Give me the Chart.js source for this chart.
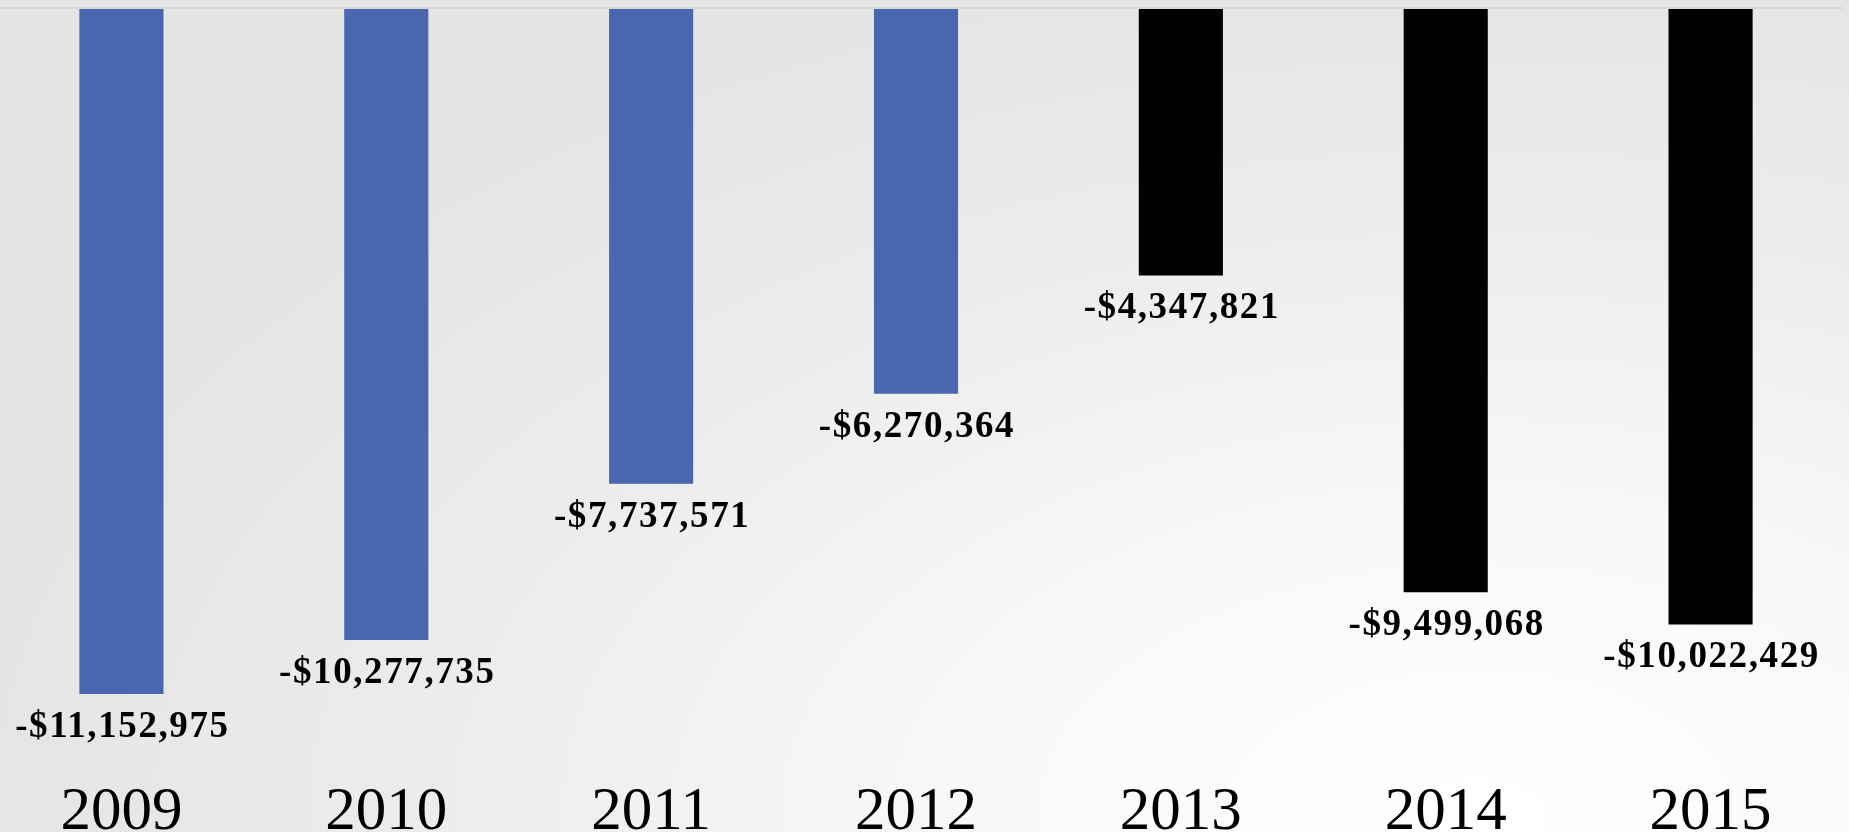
<!DOCTYPE html>
<html>
<head>
<meta charset="utf-8">
<script src="https://cdn.jsdelivr.net/npm/chart.js@4"></script>
<style>
  html, body {
    margin: 0;
    padding: 0;
    width: 1849px;
    height: 832px;
    overflow: hidden;
    background: radial-gradient(ellipse 95% 120% at 80% 98%, #ffffff 0%, #f8f8f8 30%, #ececec 60%, #e5e5e5 85%);
  }
  #wrap {
    position: absolute;
    left: -11.4px;
    top: 0;
    width: 1854px;
    height: 880px;
  }
</style>
</head>
<body>
<div id="wrap"><canvas id="lossChart"></canvas></div>
<script>
const years = ["2009", "2010", "2011", "2012", "2013", "2014", "2015"];
const netLoss = [-11152975, -10277735, -7737571, -6270364, -4347821, -9499068, -10022429];
const barColors = ["#4a66ae", "#4a66ae", "#4a66ae", "#4a66ae", "#000000", "#000000", "#000000"];

const yMin = -12200000;

function money(v) {
  return (v < 0 ? "-$" : "$") + Math.abs(v).toLocaleString("en-US");
}

// draws the value under the end of each bar
const valueLabels = {
  id: "valueLabels",
  afterDatasetsDraw(chart) {
    const ctx = chart.ctx;
    const meta = chart.getDatasetMeta(0);
    ctx.save();
    ctx.font = "bold 37px 'Liberation Serif'";
    ctx.letterSpacing = "1.6px";
    ctx.fillStyle = "#000";
    ctx.textAlign = "center";
    ctx.textBaseline = "alphabetic";
    meta.data.forEach((bar, i) => {
      ctx.fillText(money(netLoss[i]), bar.x + 1, bar.y + 43);
    });
    ctx.restore();
  }
};

const ctx = document.getElementById("lossChart").getContext("2d");
new Chart(ctx, {
  type: "bar",
  data: {
    labels: years,
    datasets: [
      {
        data: netLoss,
        backgroundColor: barColors,
        borderWidth: 0,
        categoryPercentage: 0.8,
        barPercentage: 0.397
      }
    ]
  },
  options: {
    responsive: true,
    maintainAspectRatio: false,
    animation: false,
    layout: { padding: { top: 8, left: 0, right: 0, bottom: 0 } },
    plugins: {
      legend: { display: false },
      tooltip: { enabled: false }
    },
    scales: {
      x: {
        offset: true,
        border: { display: false },
        grid: { display: false, drawTicks: false },
        ticks: {
          color: "#000",
          padding: 18,
          font: { family: "'Liberation Serif'", size: 61 }
        },
        afterFit(scale) {
          scale.height = 121.7;
        }
      },
      y: {
        min: yMin,
        max: 0,
        border: { display: false },
        grid: {
          drawTicks: false,
          lineWidth: 2,
          color: c => (c.tick.value === 0 ? "#d8d8d8" : "transparent")
        },
        ticks: { display: false },
        afterFit(scale) {
          scale.width = 0;
        }
      }
    }
  },
  plugins: [valueLabels]
});
</script>
</body>
</html>
